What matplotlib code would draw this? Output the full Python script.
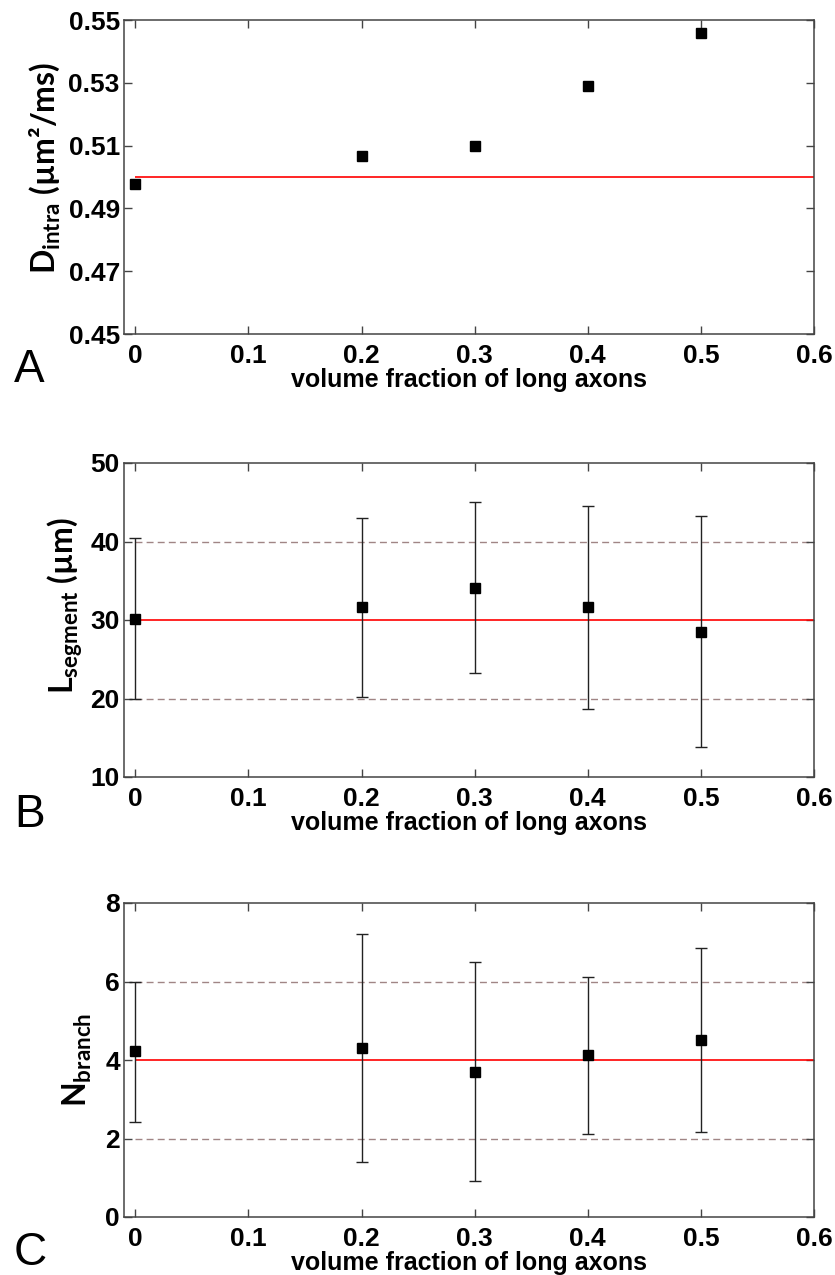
import matplotlib

matplotlib.use("Agg")

import matplotlib.pyplot as plt

plt.rcParams["mathtext.fontset"] = "custom"
plt.rcParams["mathtext.rm"] = "Lato:bold"
plt.rcParams["mathtext.bf"] = "Lato:bold"
plt.rcParams["mathtext.it"] = "Lato:bold"

# data
fractions = [0.0, 0.2, 0.3, 0.4, 0.5]

d_intra = [0.4978, 0.5067, 0.5099, 0.5289, 0.5460]
d_nominal = 0.50

l_segment = [30.1, 31.6, 34.1, 31.6, 28.5]
l_upper = [40.4, 43.0, 45.0, 44.5, 43.2]
l_lower = [19.9, 20.2, 23.3, 18.6, 13.8]
l_nominal = 30.0
l_band = [20.0, 40.0]

n_branch = [4.22, 4.31, 3.69, 4.12, 4.51]
n_upper = [6.00, 7.20, 6.50, 6.11, 6.85]
n_lower = [2.41, 1.41, 0.92, 2.11, 2.17]
n_nominal = 4.0
n_band = [2.0, 6.0]

x_ticks = [0, 0.1, 0.2, 0.3, 0.4, 0.5, 0.6]
x_ticklabels = ["0", "0.1", "0.2", "0.3", "0.4", "0.5", "0.6"]
a_ticks = [0.45, 0.47, 0.49, 0.51, 0.53, 0.55]
b_ticks = [10, 20, 30, 40, 50]
c_ticks = [0, 2, 4, 6, 8]

TICK_FONT = {"family": "Liberation Sans", "weight": "bold", "size": 19}
XLABEL_FONT = {"family": "Liberation Sans", "weight": "bold", "size": 18}
FRAME = "#444444"
DASH = "#a08585"

fig = plt.figure(figsize=(8.35, 12.75), dpi=100)
W, H = 835, 1275


def make_axes(top_px, bottom_px):
    left, right = 124, 814
    return fig.add_axes([left / W, 1 - bottom_px / H, (right - left) / W, (bottom_px - top_px) / H])


def style(ax, yticks, ylim, ylabel, label_xy, letter, letter_y):
    ax.set_xlim(-0.01, 0.6)
    ax.set_ylim(*ylim)
    ax.set_xticks(x_ticks)
    ax.set_xticklabels(x_ticklabels, fontdict=TICK_FONT)
    ax.set_yticks(yticks)
    ax.set_yticklabels([f"{t:g}" if t >= 1 or t == 0 else f"{t:.2f}" for t in yticks], fontdict=TICK_FONT)
    ax.tick_params(direction="in", length=6, width=1, color=FRAME, top=True, right=True)
    ax.tick_params(axis="x", pad=7)
    ax.tick_params(axis="y", pad=3)
    for s in ax.spines.values():
        s.set_color(FRAME)
        s.set_linewidth(1.1)
    ax.set_xlabel("volume fraction of long axons", fontdict=XLABEL_FONT, labelpad=0)
    ax.set_ylabel(ylabel, fontsize=23, family="Lato", weight="bold")
    ax.yaxis.set_label_coords(*label_xy)
    fig.text(14 / W, 1 - letter_y / H, letter, family="Liberation Sans", fontsize=33, ha="left", va="baseline")


# panel A
ax_a = make_axes(20, 334)
ax_a.hlines(d_nominal, fractions[0], 0.6, color="red", lw=1.2, zorder=2)
ax_a.plot(fractions, d_intra, "s", color="black", ms=7.5, zorder=3)
style(ax_a, a_ticks, (0.45, 0.55), "D$_{\\mathrm{intra}}$ (\u00b5m\u00b2/ms)", (-0.09, 0.53), "A", 382)

# panel B
ax_b = make_axes(463, 777)
for v in l_band:
    ax_b.hlines(v, fractions[0], 0.6, color=DASH, lw=1, linestyles=(0, (5, 3)), zorder=1)
ax_b.hlines(l_nominal, fractions[0], 0.6, color="red", lw=1.2, zorder=2)
ax_b.errorbar(fractions, l_segment,
              yerr=[[m - lo for m, lo in zip(l_segment, l_lower)], [hi - m for m, hi in zip(l_segment, l_upper)]],
              fmt="s", color="black", ecolor="#222222", ms=7.5, elinewidth=1, capsize=4, capthick=1, zorder=3)
style(ax_b, b_ticks, (10, 50), "L$_{\\mathrm{segment}}$ (\u00b5m)", (-0.057, 0.545), "B", 827)

# panel C
ax_c = make_axes(903, 1217)
for v in n_band:
    ax_c.hlines(v, fractions[0], 0.6, color=DASH, lw=1, linestyles=(0, (5, 3)), zorder=1)
ax_c.hlines(n_nominal, fractions[0], 0.6, color="red", lw=1.2, zorder=2)
ax_c.errorbar(fractions, n_branch,
              yerr=[[m - lo for m, lo in zip(n_branch, n_lower)], [hi - m for m, hi in zip(n_branch, n_upper)]],
              fmt="s", color="black", ecolor="#222222", ms=7.5, elinewidth=1, capsize=4, capthick=1, zorder=3)
style(ax_c, c_ticks, (0, 8), "N$_{\\mathrm{branch}}$", (-0.043, 0.5), "C", 1265)

fig.savefig("out.png", dpi=100)
plt.close(fig)
